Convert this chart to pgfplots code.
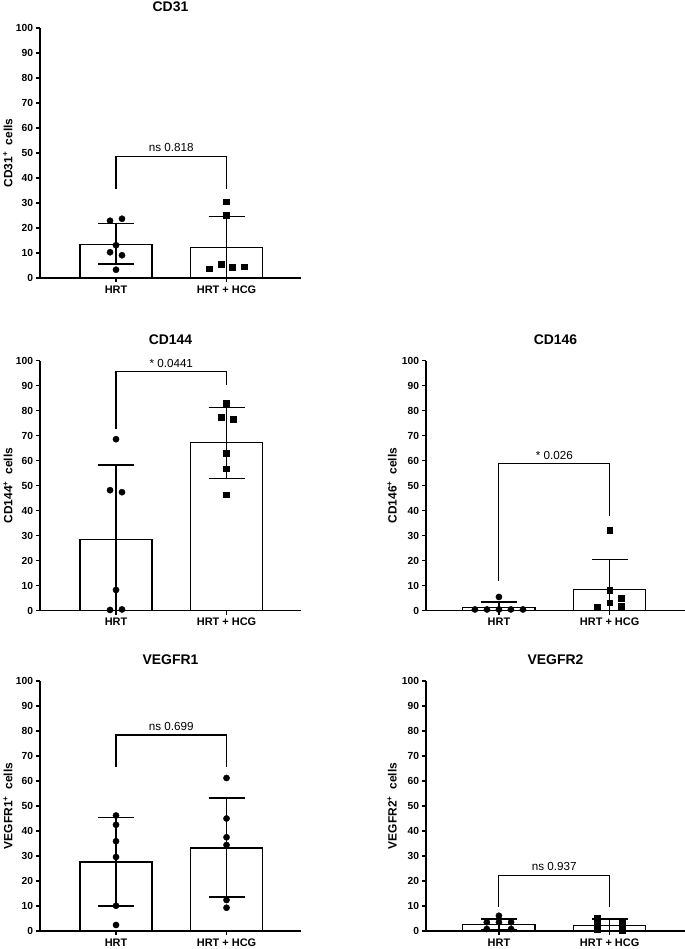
\documentclass[border=0pt]{standalone}
\usepackage{pgfplots}
\pgfplotsset{compat=1.18}
\usepackage{fontspec}
\setmainfont{Liberation Sans}
\pgfplotsset{
  panel/.style={
    scale only axis, height=250bp,
    ymin=0, ymax=100, ytick={0,10,...,100},
    axis lines=left, axis line style={-, line width=1.6bp, black},
    xtick={0,1}, xticklabels={HRT, HRT + HCG},
    tick align=outside, major tick length=4bp,
    tick style={line width=1.4bp, black},
    clip=false,
    /pgf/number format/assume math mode=true,
    yticklabel style={font=\fontsize{10.3}{12}\selectfont\bfseries, xshift=0.5bp},
    xticklabel style={font=\fontsize{11}{13}\selectfont\bfseries},
    title style={font=\fontsize{14}{16}\selectfont\bfseries, at={(axis description cs:0.5,1)}, anchor=center, yshift=15bp},
    ylabel style={font=\fontsize{12}{14}\selectfont\bfseries, anchor=center},
  },
  leftpanel/.style={panel, width=261bp, xmin=-0.688, xmax=1.674,
    ylabel style={at={(axis description cs:-0.123,0.5)}}},
  rightpanel/.style={panel, width=259bp, xmin=-0.659, xmax=1.681,
    ylabel style={at={(axis description cs:-0.131,0.5)}}},
  barplot/.style={ybar, bar width=0.652, fill=white, draw=black, line width=1.1bp,
    error bars/.cd, y dir=both, y explicit, error mark=|,
    error bar style={line width=1.5bp, black},
    error mark options={mark size=18bp, line width=1.5bp, black}},
  dots/.style={only marks, mark=*, mark size=3.1bp, black},
  squares/.style={only marks, mark=square*, mark size=2.9bp, black},
}
\newcommand{\bracket}[4]{% ylow-left, ylow-right, ytop, label
  \draw[line width=1.1bp] (axis cs:0,#1) -- (axis cs:0,#3) -- (axis cs:1,#3) -- (axis cs:1,#2);
  \node[anchor=south, inner sep=2bp, yshift=2.5bp, font=\fontsize{11.7}{13}\selectfont] at (axis cs:0.5,#3) {#4};
}
\begin{document}
\begin{tikzpicture}
\useasboundingbox (0,0) rectangle (685bp,949bp);

% ---------------- CD31 ----------------
\begin{axis}[leftpanel, at={(40bp,671bp)}, anchor=south west,
  title={CD31}, ylabel={CD31\textsuperscript{+}\ \ cells}]
\addplot[barplot] table[x=x, y=y, y error plus=ep, y error minus=em] {
x y ep em
0 13.5 8.2 7.9
1 12.1 12.4 12.1
};
\addplot[dots] table {
-0.054 22.9
0.054 23.7
0 13.1
-0.054 10.3
0.054 9.1
0 3.3
};
\addplot[squares] table {
1 30.5
1 25.2
0.84 3.7
0.95 5.5
1.054 4.3
1.16 4.5
};
\bracket{35.7}{35.7}{48.6}{ns 0.818}
\end{axis}

% ---------------- CD144 ----------------
\begin{axis}[leftpanel, at={(40bp,338.3bp)}, anchor=south west,
  title={CD144}, ylabel={CD144\textsuperscript{+}\ \ cells}]
\addplot[barplot] table[x=x, y=y, y error plus=ep, y error minus=em] {
x y ep em
0 28.5 29.7 28.5
1 67.1 14.2 14.2
};
\addplot[dots] table {
0 68.6
-0.054 48.2
0.054 47.4
0 8.3
-0.054 0.3
0.054 0.5
};
\addplot[squares] table {
1 83.0
0.949 77.4
1.057 76.7
1 63.0
1 56.8
1 46.4
};
\bracket{72.6}{90.3}{95.5}{* 0.0441}
\end{axis}

% ---------------- CD146 ----------------
\begin{axis}[rightpanel, at={(426bp,338.3bp)}, anchor=south west,
  title={CD146}, ylabel={CD146\textsuperscript{+}\ \ cells}]
\addplot[barplot] table[x=x, y=y, y error plus=ep, y error minus=em] {
x y ep em
0 1.1 2.3 1.1
1 8.6 11.9 8.6
};
\addplot[dots] table {
-0.217 0.5
-0.108 0.5
0 0.5
0.108 0.5
0.217 0.5
0 5.5
};
\addplot[squares] table {
1 32.3
1 8.3
1 3.2
0.89 1.6
1.108 5.0
1.108 1.9
};
\bracket{11.9}{37.9}{58.7}{* 0.026}
\end{axis}

% ---------------- VEGFR1 ----------------
\begin{axis}[leftpanel, at={(40bp,18bp)}, anchor=south west,
  title={VEGFR1}, ylabel={VEGFR1\textsuperscript{+}\ \ cells}]
\addplot[barplot] table[x=x, y=y, y error plus=ep, y error minus=em] {
x y ep em
0 27.6 17.8 17.5
1 33.2 19.9 19.5
};
\addplot[dots] table {
0 46.2
0 42.5
0 35.9
0 29.6
0 10.1
0 2.4
};
\addplot[dots] table {
1 61.2
1 45.0
1 37.5
1 34.4
1 12.4
1 9.3
};
\bracket{65.7}{65.7}{78.4}{ns 0.699}
\end{axis}

% ---------------- VEGFR2 ----------------
\begin{axis}[rightpanel, at={(426bp,18bp)}, anchor=south west,
  title={VEGFR2}, ylabel={VEGFR2\textsuperscript{+}\ \ cells}]
\addplot[barplot] table[x=x, y=y, y error plus=ep, y error minus=em] {
x y ep em
0 2.7 2.1 2.1
1 2.2 2.6 2.2
};
\addplot[dots] table {
0 6.1
-0.11 3.5
0 3.5
0.11 3.5
-0.11 0.8
0.11 0.8
};
\addplot[squares] table {
0.89 5.0
0.89 2.6
0.89 0.6
1.11 3.6
1.11 1.2
1.11 0.4
};
\bracket{9.7}{9.7}{22.1}{ns 0.937}
\end{axis}
\end{tikzpicture}
\end{document}
